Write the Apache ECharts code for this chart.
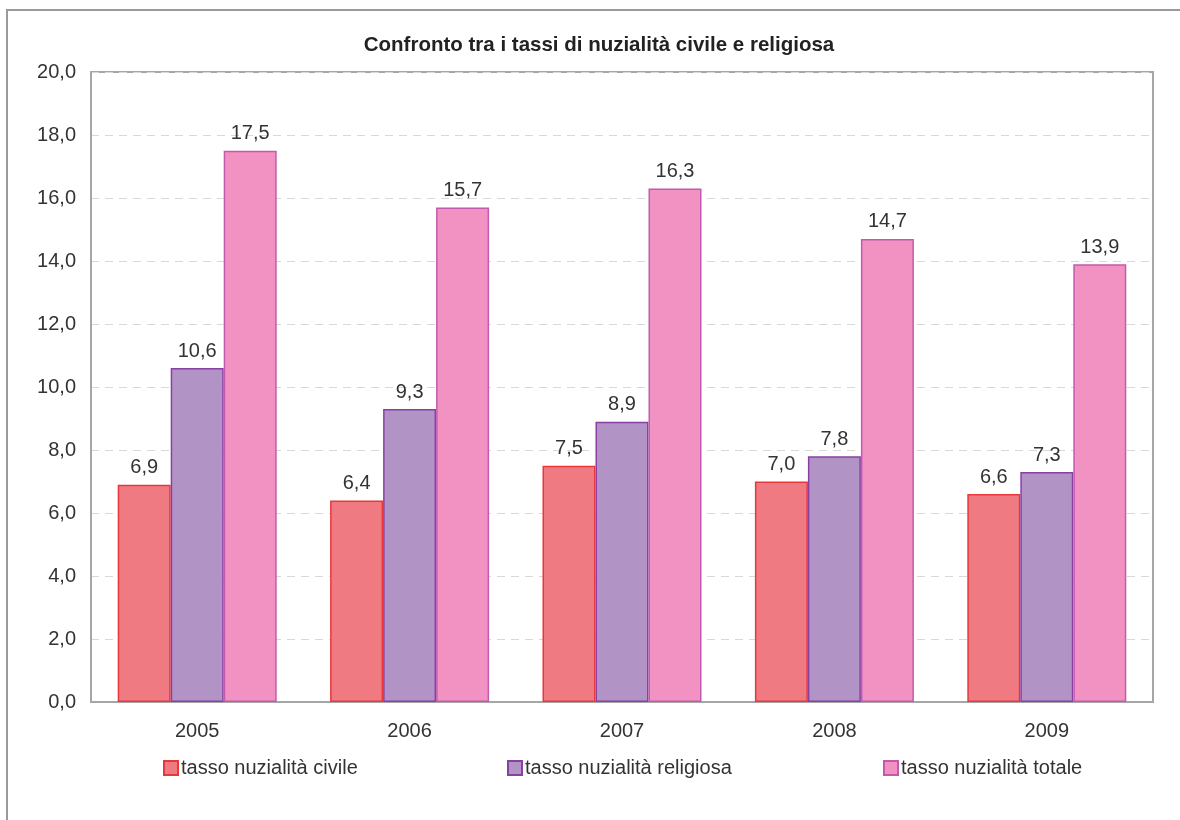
<!DOCTYPE html>
<html>
<head>
<meta charset="utf-8">
<script src="https://cdn.jsdelivr.net/npm/echarts@6/dist/echarts.min.js"></script>
<style>
html,body{margin:0;padding:0;background:#fff;}
#chart{width:1180px;height:820px;}
</style>
</head>
<body>
<div id="chart"></div>
<script>
const categories = ['2005', '2006', '2007', '2008', '2009'];
const civile = [6.9, 6.4, 7.5, 7.0, 6.6];
const religiosa = [10.6, 9.3, 8.9, 7.8, 7.3];
const totale = [17.5, 15.7, 16.3, 14.7, 13.9];
const seriesNames = ['tasso nuzialità civile', 'tasso nuzialità religiosa', 'tasso nuzialità totale'];

const font = 'Liberation Sans, Arial, sans-serif';
const fmt = v => v.toFixed(1).replace('.', ',');

const chart = echarts.init(document.getElementById('chart'));
const labelCfg = {
  show: true, position: 'top', distance: 7,
  fontFamily: font, fontSize: 20, color: '#333',
  formatter: p => fmt(p.value)
};
function legend(name, left) {
  return {
    data: [name], left: left, top: 753, itemWidth: 14, itemHeight: 14,
    icon: 'rect', itemGap: 4,
    textStyle: { fontFamily: font, fontSize: 20, color: '#333', padding: [0, 0, 0, -2] }
  };
}
chart.setOption({
  animation: false,
  backgroundColor: '#fff',
  graphic: [{
    type: 'rect', shape: { x: 7, y: 10, width: 1200, height: 830 },
    style: { fill: 'none', stroke: '#9a9a9a', lineWidth: 2 }, silent: true, z: -1
  }],
  title: {
    text: 'Confronto tra i tassi di nuzialità civile e religiosa',
    left: 594, textAlign: 'center', top: 30,
    textStyle: { fontFamily: font, fontSize: 20.5, fontWeight: 'bold', color: '#222' }
  },
  legend: [legend(seriesNames[0], 158), legend(seriesNames[1], 502), legend(seriesNames[2], 878)],
  grid: {
    left: 91, right: 27, top: 72, bottom: 118,
    show: true, borderColor: '#a6a6a6', borderWidth: 2, backgroundColor: 'transparent'
  },
  xAxis: {
    type: 'category', data: categories,
    axisLine: { lineStyle: { color: '#a6a6a6', width: 2 } },
    axisTick: { show: false },
    axisLabel: { fontFamily: font, fontSize: 20, color: '#333', margin: 19 }
  },
  yAxis: {
    type: 'value', min: 0, max: 20, interval: 2,
    axisLine: { show: true, lineStyle: { color: '#a6a6a6', width: 2 } },
    axisTick: { show: false },
    axisLabel: { fontFamily: font, fontSize: 20, color: '#333', margin: 15, formatter: v => fmt(v) },
    splitLine: { lineStyle: { color: '#d8d8d8', type: [8, 6], width: 1 } }
  },
  series: [
    { name: seriesNames[0], type: 'bar', data: civile, barWidth: 53, barGap: '0%',
      itemStyle: { color: '#f07a82', borderColor: '#e8383c', borderWidth: 1.5 }, label: labelCfg },
    { name: seriesNames[1], type: 'bar', data: religiosa, barWidth: 53, barGap: '0%',
      itemStyle: { color: '#b193c6', borderColor: '#8a3fa6', borderWidth: 1.5 }, label: labelCfg },
    { name: seriesNames[2], type: 'bar', data: totale, barWidth: 53, barGap: '0%',
      itemStyle: { color: '#f292c2', borderColor: '#c25aae', borderWidth: 1.5 }, label: labelCfg }
  ]
});
</script>
</body>
</html>
